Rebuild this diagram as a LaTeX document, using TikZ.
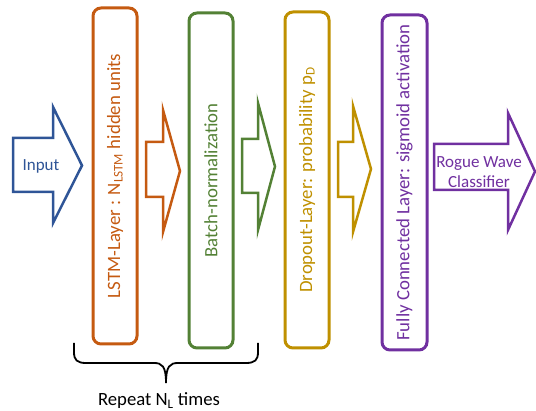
\documentclass[tikz,border=0pt]{standalone}
\usepackage{fontspec}
\setmainfont{Carlito}
\definecolor{cblue}{HTML}{2F5597}
\definecolor{corange}{HTML}{C55A11}
\definecolor{cgreen}{HTML}{538135}
\definecolor{cgold}{HTML}{BF9000}
\definecolor{cpurple}{HTML}{7030A0}
\begin{document}
\begin{tikzpicture}[x=1pt,y=-1pt,
  layerbox/.style={draw, line width=3pt, rounded corners=8pt, rotate=90,
    minimum width=336pt, minimum height=44pt, inner sep=0pt,
    font=\fontsize{18.8}{22}\selectfont},
  blockarrow/.style={line width=2.5pt, fill=white},
  lbl/.style={font=\fontsize{17}{20}\selectfont, align=center, inner sep=0pt}]
\useasboundingbox (0,0) rectangle (536,411);
% layer boxes
\node[layerbox, draw=corange, text=corange] (lstm) at (115,176) {LSTM-Layer : N\textsubscript{LSTM} hidden units};
\node[layerbox, draw=cgreen, text=cgreen, minimum width=335pt] (bn) at (211,180.5) {Batch-normalization};
\node[layerbox, draw=cgold, text=cgold] (drop) at (307,180) {Dropout-Layer: probability p\textsubscript{D}};
\node[layerbox, draw=cpurple, text=cpurple, minimum width=335pt, minimum height=45pt] (fc) at (404.5,182.5) {Fully Connected Layer: sigmoid activation};
% block arrows
\draw[blockarrow, draw=cblue] (13,138) -- (53,138) -- (53,107) -- (82,165.5) -- (53,223) -- (53,192) -- (13,192) -- cycle;
\node[lbl, text=cblue] (input) at (41,166) {Input};
\draw[blockarrow, draw=corange] (146,142) -- (163,142) -- (163,110) -- (180,171) -- (163,232) -- (163,197) -- (146,197) -- cycle;
\draw[blockarrow, draw=cgreen] (242,139) -- (258,139) -- (258,103) -- (275,166.5) -- (258,230) -- (258,193) -- (242,193) -- cycle;
\draw[blockarrow, draw=cgold] (338,142) -- (353,142) -- (353,106) -- (371,169) -- (353,232) -- (353,197) -- (338,197) -- cycle;
\draw[blockarrow, draw=cpurple] (434,144) -- (508,144) -- (508,113) -- (535,171.5) -- (508,230) -- (508,190) -- (434,190) -- cycle;
\node[lbl, text=cpurple] (rogue) at (479,172) {Rogue Wave\\Classifier};
% brace
\draw[line width=1.8pt] (74,343) -- (74,352) .. controls (74,360) and (77,363) .. (86,363) -- (154,363) .. controls (162,363) and (166,366) .. (166,383) .. controls (166,366) and (170,363) .. (178,363) -- (246,363) .. controls (255,363) and (258,360) .. (258,352) -- (258,343);
\node[font=\fontsize{18.7}{21}\selectfont, anchor=base, inner sep=0pt] (repeat) at (159,406) {Repeat N\textsubscript{L} times};
\end{tikzpicture}
\end{document}
